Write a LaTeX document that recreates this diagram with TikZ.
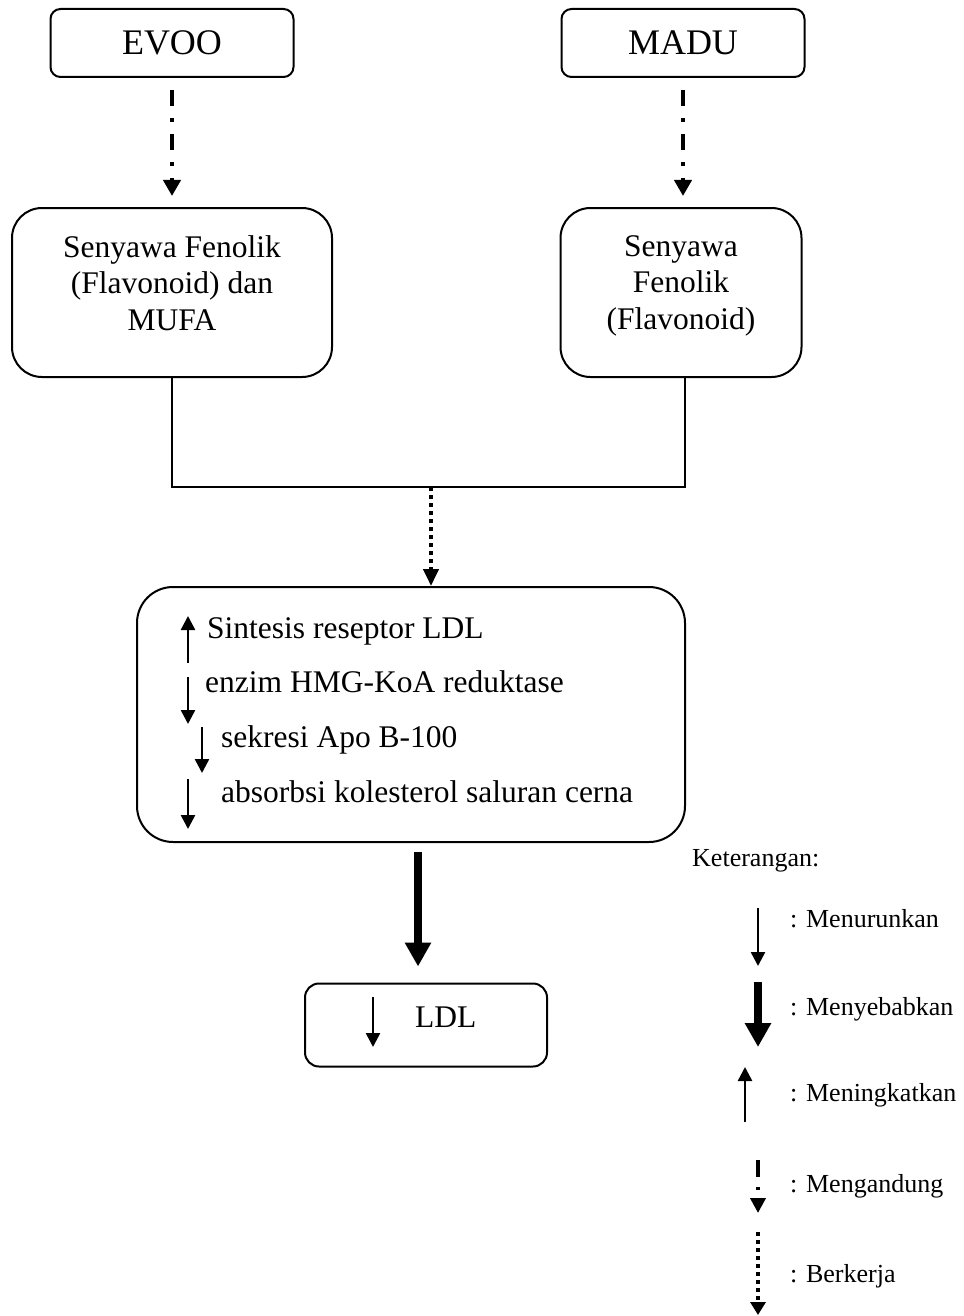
\documentclass[tikz,border=0pt]{standalone}
\usepackage{fontspec}
\setmainfont{Liberation Serif}
\usetikzlibrary{arrows.meta}
\tikzset{
	sumberstyle/.style={rectangle,draw=black,line width=2pt,rounded corners=10pt,minimum width=243pt,minimum height=68pt,font=\fontsize{36}{40}\selectfont},
	senyawastyle/.style={rectangle,draw=black,line width=2pt,rounded corners=30pt,minimum height=169pt},
	efekstyle/.style={rectangle,draw=black,line width=2pt,rounded corners=36pt,minimum width=548pt,minimum height=255pt},
	ldlstyle/.style={rectangle,draw=black,line width=2pt,rounded corners=14pt,minimum width=242pt,minimum height=83pt},
	teksstyle/.style={inner sep=0pt,font=\fontsize{31.5}{36.5}\selectfont},
	ketstyle/.style={inner sep=0pt,anchor=base west,font=\fontsize{26}{30}\selectfont},
	garisstyle/.style={line width=2pt},
	turunstyle/.style={line width=2.5pt,-{Triangle[length=14pt,width=14pt]}},
	tebalstyle/.style={line width=7.5pt,-{Triangle[length=24pt,width=25pt]}},
	kandungstyle/.style={line width=4.5pt,dash pattern=on 16pt off 12pt on 4pt off 12pt,-{Triangle[length=16pt,width=17pt]}},
	kerjastyle/.style={line width=4pt,dash pattern=on 4pt off 4pt,-{Triangle[length=17pt,width=15pt]}}
}
\begin{document}
\begin{tikzpicture}[x=1pt,y=-1pt]
	\useasboundingbox (0,0) rectangle (963,1316);
	\node[sumberstyle] (evoo) at (172,43) {EVOO};
	\node[sumberstyle] (madu) at (683,43) {MADU};
	\node[senyawastyle,minimum width=320pt] (senyawa1) at (172,292.5) {};
	\node[senyawastyle,minimum width=241pt] (senyawa2) at (681,292.5) {};
	\node[teksstyle,align=center,anchor=north] (teks1) at (172,235) {Senyawa Fenolik\\(Flavonoid) dan\\MUFA};
	\node[teksstyle,align=center,anchor=north] (teks2) at (681,235) {Senyawa\\Fenolik\\(Flavonoid)};
	\node[efekstyle] (kerja) at (411,714.5) {};
	\node[teksstyle,anchor=base west] (l1) at (207,638) {Sintesis reseptor LDL};
	\node[teksstyle,anchor=base west] (l2) at (205,692) {enzim HMG-KoA reduktase};
	\node[teksstyle,anchor=base west] (l3) at (221,747) {sekresi Apo B-100};
	\node[teksstyle,anchor=base west] (l4) at (221,802) {absorbsi kolesterol saluran cerna};
	\node[ldlstyle] (ldl) at (426,1025) {};
	\node[teksstyle,anchor=base west] (ldlteks) at (415,1027) {LDL};
	\coordinate (gabung) at (431,487);
	\coordinate (kanan) at (685,487);
	\coordinate (pangkal) at (418,852);
	\draw[kandungstyle,shorten <=12pt,shorten >=11pt] (evoo.south) -- (senyawa1.north);
	\draw[kandungstyle,shorten <=12pt,shorten >=11pt] (madu.south) -- (madu.south |- senyawa2.north);
	\draw[garisstyle] (senyawa1.south) |- (kanan) -- (kanan |- senyawa2.south);
	\draw[kerjastyle] (gabung) -- (gabung |- kerja.north);
	\draw[tebalstyle,shorten >=16pt] (pangkal) -- (pangkal |- ldl.north);
	\draw[turunstyle] (l1.base west) ++(-19,25) -- ++(0,-47);
	\draw[turunstyle] (l2.base west) ++(-17,-15) -- ++(0,47);
	\draw[turunstyle] (l3.base west) ++(-19,-20) -- ++(0,46);
	\draw[turunstyle] (l4.base west) ++(-33,-23) -- ++(0,50);
	\draw[turunstyle] (ldlteks.base west) ++(-42,-30) -- ++(0,50);
	\node[ketstyle] (keterangan) at (692,866) {Keterangan:};
	\node[ketstyle] (menurunkan) at (790,927) {: Menurunkan};
	\node[ketstyle] (menyebabkan) at (790,1015) {: Menyebabkan};
	\node[ketstyle] (meningkatkan) at (790,1101) {: Meningkatkan};
	\node[ketstyle] (mengandung) at (790,1192) {: Mengandung};
	\node[ketstyle] (berkerja) at (790,1282) {: Berkerja};
	\draw[turunstyle] (menurunkan.base west) ++(-32,-19) -- ++(0,58);
	\draw[tebalstyle,line width=8pt] (menyebabkan.base west) ++(-32,-33) -- ++(0,65);
	\draw[turunstyle] (meningkatkan.base west) ++(-45,21) -- ++(0,-55);
	\draw[kandungstyle,dash pattern=on 17pt off 10pt on 3pt off 8pt,-{Triangle[length=15pt,width=15pt]}] (mengandung.base west) ++(-32,-32) -- ++(0,53);
	\draw[kerjastyle,-{Triangle[length=13pt,width=15pt]}] (berkerja.base west) ++(-32,-50) -- ++(0,83);
\end{tikzpicture}
\end{document}
